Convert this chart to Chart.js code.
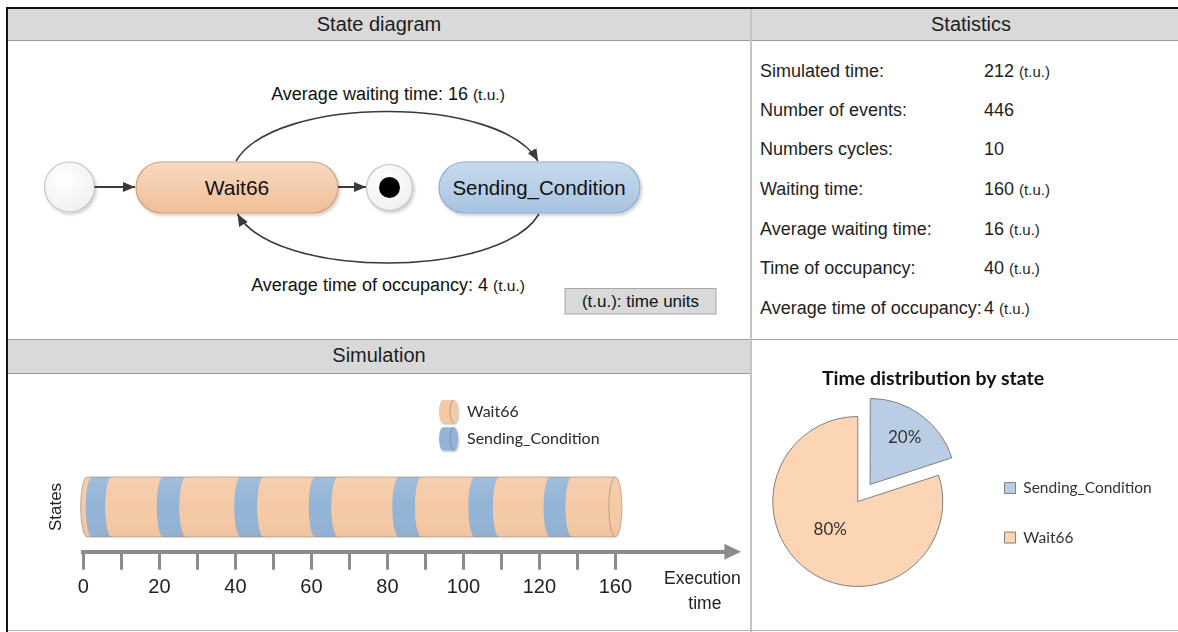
<!DOCTYPE html>
<html>
<head>
<meta charset="utf-8">
<script src="https://cdn.jsdelivr.net/npm/chart.js@4.4.1/dist/chart.umd.min.js"></script>
<style>
  html, body { margin: 0; padding: 0; background: #fff; }
  body { width: 1178px; height: 632px; overflow: hidden; position: relative; font-family: "Liberation Sans", Arial, sans-serif; color: #1e1e1e; }
  .abs { position: absolute; }
  .hdr { position: absolute; background: #d9d9d9; border-bottom: 1px solid #9a9a9a; font-size: 20px; color: #1e1e1e; text-align: center; box-sizing: border-box; }
  .stat { position: absolute; font-size: 18px; line-height: 22px; white-space: nowrap; color: #1e1e1e; }
  .tu { font-size: 15px; }
  #pieTitle { position: absolute; left: 733px; top: 366px; width: 400px; text-align: center; font-family: Lato, "Open Sans", sans-serif; font-weight: bold; font-size: 19.5px; line-height: 24px; color: #111; }
</style>
</head>
<body>
<!-- frame -->
<div class="abs" style="left:6px;top:7px;width:1172px;height:2px;background:#111;"></div>
<div class="abs" style="left:6px;top:7px;width:2px;height:625px;background:#111;"></div>
<div class="hdr" style="left:8px;top:9px;width:742px;height:32px;line-height:31px;">State diagram</div>
<div class="hdr" style="left:752px;top:9px;width:426px;height:32px;line-height:31px;padding-left:12px;">Statistics</div>
<div class="abs" style="left:8px;top:339px;width:1170px;height:1px;background:#a0a0a0;"></div>
<div class="hdr" style="left:8px;top:340px;width:742px;height:34px;line-height:31px;">Simulation</div>
<div class="abs" style="left:750px;top:9px;width:2px;height:623px;background:#c4c4c4;"></div>
<div class="abs" style="left:8px;top:630px;width:1170px;height:1px;background:#b0b0b0;"></div>

<!-- state diagram -->
<svg class="abs" style="left:0;top:0" width="750" height="339" font-family="Liberation Sans, Arial, sans-serif">
  <defs>
    <linearGradient id="gW" x1="0" y1="0" x2="0" y2="1">
      <stop offset="0" stop-color="#f9d9bf"/><stop offset="1" stop-color="#efbf98"/>
    </linearGradient>
    <linearGradient id="gS" x1="0" y1="0" x2="0" y2="1">
      <stop offset="0" stop-color="#c8dbee"/><stop offset="1" stop-color="#a8c3e0"/>
    </linearGradient>
    <radialGradient id="gI" cx="0.4" cy="0.35" r="0.75">
      <stop offset="0" stop-color="#ffffff"/><stop offset="1" stop-color="#efefef"/>
    </radialGradient>
    <filter id="sh" x="-20%" y="-20%" width="140%" height="150%">
      <feDropShadow dx="1.5" dy="2" stdDeviation="1.5" flood-color="#000" flood-opacity="0.2"/>
    </filter>
    <marker id="ah" viewBox="0 0 12 10" refX="12" refY="5" markerWidth="12" markerHeight="10" markerUnits="userSpaceOnUse" orient="auto">
      <path d="M0,0 L12,5 L0,10 z" fill="#3a3a3a"/>
    </marker>
  </defs>
  <ellipse cx="69.5" cy="187" rx="25" ry="25" fill="url(#gI)" stroke="#c4c4c4" stroke-width="1.2" filter="url(#sh)"/>
  <line x1="94.5" y1="187" x2="135" y2="187" stroke="#3a3a3a" stroke-width="2" marker-end="url(#ah)"/>
  <rect x="136" y="162" width="202" height="51" rx="25.5" ry="25.5" fill="url(#gW)" stroke="#d2a07c" stroke-width="1.2" filter="url(#sh)"/>
  <text x="237" y="194.5" font-size="21" text-anchor="middle" fill="#111">Wait66</text>
  <line x1="338" y1="187" x2="366" y2="187" stroke="#3a3a3a" stroke-width="2" marker-end="url(#ah)"/>
  <circle cx="389.5" cy="187.5" r="23" fill="url(#gI)" stroke="#c4c4c4" stroke-width="1.2" filter="url(#sh)"/>
  <circle cx="389.5" cy="187.5" r="10.5" fill="#000"/>
  <rect x="439" y="162" width="201" height="51" rx="25.5" ry="25.5" fill="url(#gS)" stroke="#8eaed2" stroke-width="1.2" filter="url(#sh)"/>
  <text x="539" y="194.5" font-size="20.5" text-anchor="middle" fill="#111">Sending_Condition</text>
  <path d="M236,161 C275,95 500,95 538,161" fill="none" stroke="#3a3a3a" stroke-width="1.6" marker-end="url(#ah)"/>
  <path d="M539,214 C500,279.4 275,279.4 237.5,214" fill="none" stroke="#3a3a3a" stroke-width="1.6" marker-end="url(#ah)"/>
  <text x="388" y="100" font-size="18" text-anchor="middle" fill="#111">Average waiting time: 16 <tspan font-size="15.5">(t.u.)</tspan></text>
  <text x="388" y="291" font-size="18" text-anchor="middle" fill="#111">Average time of occupancy: 4 <tspan font-size="15.5">(t.u.)</tspan></text>
  <rect x="565" y="288.5" width="151" height="25.5" fill="#d9d9d9" stroke="#a6a6a6" stroke-width="1"/>
  <text x="640.5" y="307" font-size="17" text-anchor="middle" fill="#111">(t.u.): time units</text>
</svg>

<div id="stats"></div>

<canvas id="sim" class="abs" width="742" height="256" style="left:8px;top:374px;"></canvas>
<canvas id="pie" class="abs" width="430" height="288" style="left:745px;top:342px;"></canvas>
<div id="pieTitle">Time distribution by state</div>

<script>
// ---------------- data ----------------
const statLabels = ['Simulated time:', 'Number of events:', 'Numbers cycles:', 'Waiting time:', 'Average waiting time:', 'Time of occupancy:', 'Average time of occupancy:'];
const statValues = ['212', '446', '10', '160', '16', '40', '4'];
const statUnits  = ['(t.u.)', '', '', '(t.u.)', '(t.u.)', '(t.u.)', '(t.u.)'];

const stateNames = ['Wait66', 'Sending_Condition'];
const waitStart = [1, 7.5, 27, 47.5, 67, 89, 109.5, 128.6];
const waitEnd   = [2.3, 21, 41.4, 61, 83, 103, 122.8, 140];
const sendStart = [2.3, 21, 41.4, 61, 83, 103, 122.8];
const sendEnd   = [7.5, 27, 47.5, 67, 89, 109.5, 128.6];
const rowLabel = 'States';

const xTickValues = [0, 10, 20, 30, 40, 50, 60, 70, 80, 90, 100, 110, 120, 130, 140];
const xTickLabels = ['0', '', '20', '', '40', '', '60', '', '80', '', '100', '', '120', '', '160'];
const xAxisMax = 170;

const pieLabels = ['Sending_Condition', 'Wait66'];
const pieValues = [40, 160];

// ---------------- statistics panel ----------------
const statRowTops = [60, 99, 138, 178, 218, 257, 297];
const statsDiv = document.getElementById('stats');
statLabels.forEach((lab, i) => {
  const a = document.createElement('div');
  a.className = 'stat';
  a.style.left = '760px'; a.style.top = statRowTops[i] + 'px';
  a.textContent = lab;
  statsDiv.appendChild(a);
  const b = document.createElement('div');
  b.className = 'stat';
  b.style.left = '984px'; b.style.top = statRowTops[i] + 'px';
  b.innerHTML = statValues[i] + (statUnits[i] ? ' <span class="tu">' + statUnits[i] + '</span>' : '');
  statsDiv.appendChild(b);
});

// ---------------- simulation (cylinder timeline) ----------------
const simColors = ['#f5c9a5', '#93b4d7'];
const cylinderPlugin = {
  id: 'cylinder',
  beforeDatasetDraw() { return false; },
  afterDatasetsDraw(chart) {
    const ctx = chart.ctx;
    const segs = [];
    chart.data.datasets.forEach((ds, di) => {
      chart.getDatasetMeta(di).data.forEach(bar => {
        const p = bar.getProps(['x', 'y', 'base', 'height'], true);
        segs.push({ x0: Math.min(p.base, p.x), x1: Math.max(p.base, p.x), y: p.y, h: p.height, color: ds.backgroundColor });
      });
    });
    if (!segs.length) return;
    segs.sort((a, b) => a.x0 - b.x0);
    const rx = 6.5;
    const first = segs[0], last = segs[segs.length - 1];
    const cy = first.y, ry = first.h / 2, top = cy - ry, bot = cy + ry;
    const bodyPath = () => {
      ctx.beginPath();
      ctx.moveTo(first.x0, top);
      ctx.lineTo(last.x1, top);
      ctx.ellipse(last.x1, cy, rx, ry, 0, -Math.PI / 2, Math.PI / 2, false);
      ctx.lineTo(first.x0, bot);
      ctx.ellipse(first.x0, cy, rx, ry, 0, Math.PI / 2, 3 * Math.PI / 2, false);
      ctx.closePath();
    };
    ctx.save();
    ctx.fillStyle = chart.data.datasets[0].backgroundColor;
    bodyPath();
    ctx.fill();
    segs.forEach(s => {
      ctx.fillStyle = s.color;
      ctx.beginPath();
      ctx.moveTo(s.x0, top);
      ctx.lineTo(s.x1, top);
      ctx.ellipse(s.x1, cy, rx, ry, 0, -Math.PI / 2, Math.PI / 2, true);
      ctx.lineTo(s.x0, bot);
      ctx.ellipse(s.x0, cy, rx, ry, 0, Math.PI / 2, 3 * Math.PI / 2, false);
      ctx.closePath();
      ctx.fill();
    });
    const g = ctx.createLinearGradient(0, top, 0, bot);
    g.addColorStop(0, 'rgba(255,255,255,0.12)');
    g.addColorStop(0.5, 'rgba(255,255,255,0)');
    g.addColorStop(1, 'rgba(120,80,40,0.05)');
    ctx.fillStyle = g;
    bodyPath();
    ctx.fill();
    ctx.strokeStyle = 'rgba(150,125,105,0.55)';
    ctx.lineWidth = 1;
    ctx.stroke();
    ctx.beginPath();
    ctx.ellipse(last.x1, cy, rx, ry, 0, Math.PI / 2, 3 * Math.PI / 2, false);
    ctx.strokeStyle = 'rgba(170,140,115,0.7)';
    ctx.stroke();
    ctx.restore();
  },
  afterDraw(chart) {
    const ctx = chart.ctx;
    const ca = chart.chartArea;
    const axisY = ca.bottom;
    ctx.save();
    ctx.fillStyle = '#8c8c8c';
    ctx.beginPath();
    ctx.moveTo(ca.right - 5, axisY - 8);
    ctx.lineTo(ca.right + 11.5, axisY);
    ctx.lineTo(ca.right - 5, axisY + 8);
    ctx.closePath();
    ctx.fill();
    ctx.fillStyle = '#222';
    ctx.font = '17.5px "Liberation Sans", Arial, sans-serif';
    ctx.textAlign = 'center';
    ctx.textBaseline = 'middle';
    ctx.fillText('Execution', ca.right - 27, axisY + 27);
    ctx.fillText('time', ca.right - 24.5, axisY + 52);
    const lx = 431, ly0 = 37.5, gap = 27.3;
    chart.data.datasets.forEach((ds, i) => {
      const cy = ly0 + i * gap, h = 23, top = cy - h / 2, bot = cy + h / 2, r = 4;
      ctx.save();
      ctx.shadowColor = 'rgba(0,0,0,0.25)';
      ctx.shadowOffsetX = 1; ctx.shadowOffsetY = 1.5; ctx.shadowBlur = 2;
      ctx.fillStyle = ds.backgroundColor;
      ctx.beginPath();
      ctx.moveTo(lx + r, top);
      ctx.lineTo(lx + 15, top);
      ctx.ellipse(lx + 15, cy, r, h / 2, 0, -Math.PI / 2, Math.PI / 2, false);
      ctx.lineTo(lx + r, bot);
      ctx.ellipse(lx + r, cy, r, h / 2, 0, Math.PI / 2, 3 * Math.PI / 2, false);
      ctx.closePath();
      ctx.fill();
      ctx.restore();
      ctx.strokeStyle = 'rgba(120,100,90,0.45)';
      ctx.lineWidth = 1;
      ctx.beginPath();
      ctx.ellipse(lx + 15, cy, r, h / 2, 0, Math.PI / 2, 3 * Math.PI / 2, false);
      ctx.stroke();
      ctx.fillStyle = '#2a2a2a';
      ctx.font = '16px Lato, "Open Sans", sans-serif';
      ctx.textAlign = 'left';
      ctx.fillText(ds.label, lx + 28, cy);
    });
    ctx.restore();
  }
};

const toSegs = (starts, ends) => starts.map((s, i) => ({ x: [s, ends[i]], y: rowLabel }));

new Chart(document.getElementById('sim'), {
  type: 'bar',
  data: {
    labels: [rowLabel],
    datasets: [
      { label: stateNames[0], data: toSegs(waitStart, waitEnd), backgroundColor: simColors[0], grouped: false, barThickness: 60 },
      { label: stateNames[1], data: toSegs(sendStart, sendEnd), backgroundColor: simColors[1], grouped: false, barThickness: 60 }
    ]
  },
  options: {
    indexAxis: 'y',
    responsive: false,
    animation: false,
    events: [],
    layout: { padding: { left: 34, top: 88.3, right: 20.6, bottom: 0 } },
    plugins: { legend: { display: false }, tooltip: { enabled: false } },
    scales: {
      x: {
        type: 'linear', min: 0, max: xAxisMax,
        afterBuildTicks: (s) => { s.ticks = xTickValues.map(v => ({ value: v })); },
        afterFit: (s) => { s.height = 78.3; },
        ticks: {
          autoSkip: false, maxRotation: 0, padding: 6,
          callback: (v, i) => xTickLabels[i],
          color: '#222', font: { family: '"Liberation Sans", Arial, sans-serif', size: 20 }
        },
        grid: { drawOnChartArea: false, drawTicks: true, tickLength: 18, lineWidth: 3, tickWidth: 3, color: '#8c8c8c', tickColor: '#8c8c8c' },
        border: { display: true, width: 4, color: '#8c8c8c' }
      },
      y: {
        type: 'category',
        afterFit: (s) => { s.width = 41.4; },
        ticks: { display: false },
        grid: { display: false },
        border: { display: false },
        title: { display: true, text: 'States', color: '#222', font: { family: '"Liberation Sans", Arial, sans-serif', size: 17 }, padding: { top: 4, bottom: 4 } }
      }
    }
  },
  plugins: [cylinderPlugin]
});

// ---------------- pie ----------------
const pieColors = ['#b9cde5', '#fcd5b5'];
const pieLabelRadius = [0.69, 0.47];
const pieLabelPlugin = {
  id: 'pieLabels',
  afterDatasetsDraw(chart) {
    const ctx = chart.ctx;
    const meta = chart.getDatasetMeta(0);
    const vals = chart.data.datasets[0].data;
    const total = vals.reduce((a, b) => a + b, 0);
    ctx.save();
    ctx.fillStyle = '#333';
    ctx.font = '17px Lato, "Open Sans", sans-serif';
    ctx.textAlign = 'center';
    ctx.textBaseline = 'middle';
    meta.data.forEach((arc, i) => {
      const p = arc.getProps(['x', 'y', 'startAngle', 'endAngle', 'outerRadius'], true);
      const mid = (p.startAngle + p.endAngle) / 2;
      const shift = (arc.options.offset || 0) / 4;
      const r = shift + p.outerRadius * pieLabelRadius[i];
      ctx.fillText(Math.round(vals[i] / total * 100) + '%', p.x + Math.cos(mid) * r - (i === 1 ? 4 : 0), p.y + Math.sin(mid) * r - (i === 1 ? 4 : 0));
    });
    ctx.restore();
  }
};

new Chart(document.getElementById('pie'), {
  type: 'pie',
  data: {
    labels: pieLabels,
    datasets: [{ data: pieValues, backgroundColor: pieColors, borderColor: '#7f7f7f', borderWidth: 1, offset: [84, 0], radius: 85 }]
  },
  options: {
    responsive: false,
    animation: false,
    events: [],
    layout: { padding: { left: 0, right: 13.25, top: 46.6, bottom: 15.6 } },
    plugins: {
      title: { display: false },
      legend: {
        position: 'right', fullSize: false,
        title: { display: true, text: '', font: { size: 10 }, padding: { top: 10.6, bottom: 0 } },
        labels: { boxWidth: 11, boxHeight: 11, padding: 34, color: '#333', font: { family: 'Lato, "Open Sans", sans-serif', size: 15.5 } }
      },
      tooltip: { enabled: false }
    }
  },
  plugins: [pieLabelPlugin]
});
</script>
</body>
</html>
